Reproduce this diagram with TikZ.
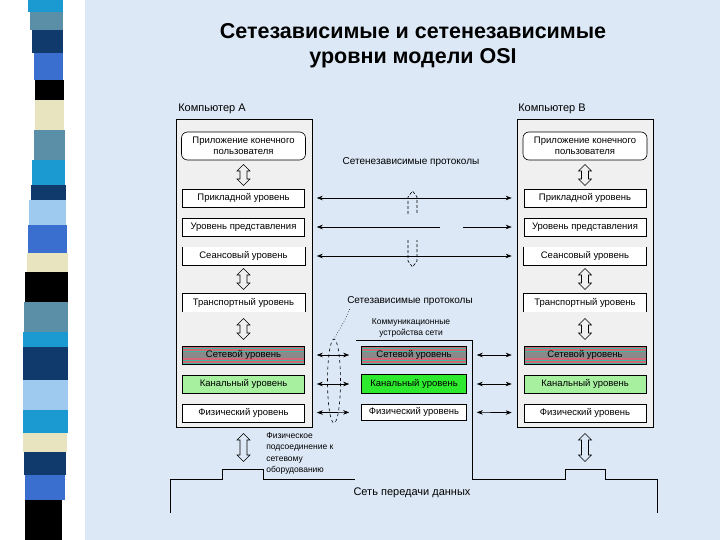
\documentclass[tikz,border=0pt]{standalone}
\usepackage{fontspec}
\setmainfont{Liberation Sans}
\usetikzlibrary{arrows.meta, shapes.arrows, shapes.geometric}

\definecolor{bgblue}{HTML}{DCE8F6}
\definecolor{framegray}{HTML}{F0F0F0}
\definecolor{netgray}{HTML}{8A8A8A}
\definecolor{netred}{HTML}{D06878}
\definecolor{netteal}{HTML}{40B8A0}
\definecolor{linkgreen}{HTML}{A6F0A0}
\definecolor{brightgreen}{HTML}{2EEA2E}
\definecolor{cyanb}{HTML}{1A9AD0}
\definecolor{steelb}{HTML}{5B8FA8}
\definecolor{navyb}{HTML}{0F3A6B}
\definecolor{royalb}{HTML}{3A6FD0}
\definecolor{beigeb}{HTML}{E8E4C0}
\definecolor{skyb}{HTML}{9FCAF0}

\newcommand\lbl{\fontsize{9.5}{11}\selectfont}
\newcommand\smalllbl{\fontsize{8.5}{11.5}\selectfont}
\newcommand\protolbl{\fontsize{10}{12}\selectfont}
\newcommand\biglbl{\fontsize{11}{13}\selectfont}

\begin{document}
\begin{tikzpicture}[x=1pt, y=-1pt, line width=0.6pt, font=\lbl,
  compframe/.style={draw, fill=framegray, minimum width=136pt, minimum height=308pt, inner sep=0pt},
  appbox/.style={draw, fill=white, rounded corners=6pt, minimum width=124pt, minimum height=28pt, inner sep=0pt, align=center},
  layer/.style={draw, fill=white, minimum width=122pt, minimum height=18pt, inner sep=0pt},
  openlayer/.style={layer, draw=none},
  netlayer/.style={layer, fill=none},
  linklayer/.style={layer, fill=linkgreen},
  updown/.style={double arrow, draw, rotate=90, minimum height=21pt, minimum width=0pt,
    inner xsep=0pt, inner ysep=3.2pt, double arrow head extend=3pt},
  proto/.style={{Stealth[length=6pt, width=4.5pt]}-{Stealth[length=6pt, width=4.5pt]}, shorten <=12pt, shorten >=12pt}
]

\useasboundingbox (0,0) rectangle (720,540);
\fill[bgblue] (85,0) rectangle (720,540);

% Side stripe
\foreach \ya/\yb/\xl/\xr/\c in {0/12/28/63/cyanb, 12/30/30/63/steelb, 30/53/32/63/navyb,
    53/80/34/63/royalb, 80/100/35/64/black, 100/130/35/64/beigeb, 130/160/34/65/steelb,
    160/185/32/65/cyanb, 185/200/31/66/navyb, 200/225/29/66/skyb, 225/253/28/67/royalb,
    253/272/27/68/beigeb, 272/302/25/68/black, 302/332/24/68/steelb, 332/347/23/68/cyanb,
    347/380/23/68/navyb, 380/410/23/68/skyb, 410/433/23/68/cyanb, 433/452/23/67/beigeb,
    452/475/24/66/navyb, 475/500/25/65/royalb, 500/540/25/62/black}
  \fill[\c] (\xl,\ya) rectangle (\xr,\yb);

% Title
\node[font=\bfseries\fontsize{21.5}{25}\selectfont, align=center] (title) at (413,46)
  {Сетезависимые и сетенезависимые\\уровни модели OSI};

% Computers
\node[compframe] (compA) at (244,273) {};
\node[compframe] (compB) at (585,273) {};
\node[font=\biglbl, anchor=base west, inner sep=0pt] (labA) at (178,112) {Компьютер А};
\node[font=\biglbl, anchor=base west, inner sep=0pt] (labB) at (518,112) {Компьютер В};

% Striped fill of the network layer boxes
\foreach \x/\w in {243.5/61, 585/61, 414/52.5} {
  \fill[netteal] (\x-\w,346) rectangle (\x+\w,364);
  \foreach \k in {0,3,...,15}
    \fill[netred] (\x-\w,346+\k) rectangle (\x+\w,347.5+\k);
  \fill[netgray] (\x-\w,352) rectangle (\x+\w,358);
}

\foreach \s/\x in {A/243.5, B/585} {
  \node[appbox] (app\s) at (\x,146) {Приложение конечного\\пользователя};
  \node[layer] (p\s1) at (\x,198) {Прикладной уровень};
  \node[layer] (p\s2) at (\x,227) {Уровень представления};
  \node[openlayer] (p\s3) at (\x,256) {Сеансовый уровень};
  \node[openlayer] (p\s4) at (\x,302.5) {Транспортный уровень};
  \node[netlayer] (p\s5) at (\x,355) {Сетевой уровень};
  \node[linklayer] (p\s6) at (\x,384) {Канальный уровень};
  \node[layer] (p\s7) at (\x,413) {Физический уровень};
  \draw (p\s3.north west) -- (p\s3.south west) -- (p\s3.south east) -- (p\s3.north east);
  \draw (p\s4.south west) -- (p\s4.north west) -- (p\s4.north east) -- (p\s4.south east);
  \node[updown] (ua\s) at (\x,175) {};
  \node[updown] (ub\s) at (\x,279) {};
  \node[updown] (uc\s) at (\x,329) {};
  \node[updown, minimum height=28pt] (ud\s) at (\x,447.5) {};
}

% Network-independent protocols
\node[font=\protolbl] (indep) at (411,162) {Сетенезависимые протоколы};
\coordinate (gapL) at (440,227);
\coordinate (gapR) at (463,227);
\draw[proto] (pA1) -- (pB1);
\draw[proto] (pA3) -- (pB3);
\draw[{Stealth[length=6pt, width=4.5pt]}-, shorten <=12pt] (pA2) -- (gapL);
\draw[-{Stealth[length=6pt, width=4.5pt]}, shorten >=12pt] (gapR) -- (pB2);
\draw[dashed, dash pattern=on 3pt off 2pt] (408,214) -- (408,197) -- (412.5,191) -- (417,197) -- (417,214);
\draw[dashed, dash pattern=on 3pt off 2pt] (408,240) -- (408,261) -- (412.5,267) -- (417,261) -- (417,240);

% Network-dependent protocols
\node[font=\protolbl] (dep) at (410,301) {Сетезависимые протоколы};
\node[font=\smalllbl, align=center] (commlab) at (411,328) {Коммуникационные\\устройства сети};
\node[netlayer, minimum width=105pt, minimum height=18pt] (m5) at (414,355) {Сетевой уровень};
\node[layer, fill=brightgreen, minimum width=105pt, minimum height=19pt] (m6) at (414,384) {Канальный уровень};
\node[layer, minimum width=105pt, minimum height=16pt] (m7) at (414,412) {Физический уровень};
\node[draw, dashed, ellipse, minimum width=13pt, minimum height=84pt, inner sep=0pt] (grp) at (334,381) {};
\draw[dotted] ([xshift=6pt]dep.south west) .. controls (344,322) .. (grp.north);
\foreach \i in {5,6,7} {
  \draw[proto] (pA\i) -- (m\i);
  \draw[proto, shorten <=10pt] (m\i) -- (pB\i);
}

% Physical link and data network
\node[font=\smalllbl, anchor=north west, align=left, inner sep=0pt] (phys) at (266,432)
  {Физическое\\подсоединение к\\сетевому\\оборудованию};
\draw (170,513) -- (170,479) -- (222,479) -- (222,469) -- (263,469) -- (263,479) -- (355,479);
\draw (356,340) -- (472,340) -- (472,479) -- (565,479) -- (565,469) -- (605,469)
  -- (605,479) -- (657,479) -- (657,513);
\node[font=\biglbl] (net) at (412,493) {Сеть передачи данных};

\end{tikzpicture}
\end{document}
